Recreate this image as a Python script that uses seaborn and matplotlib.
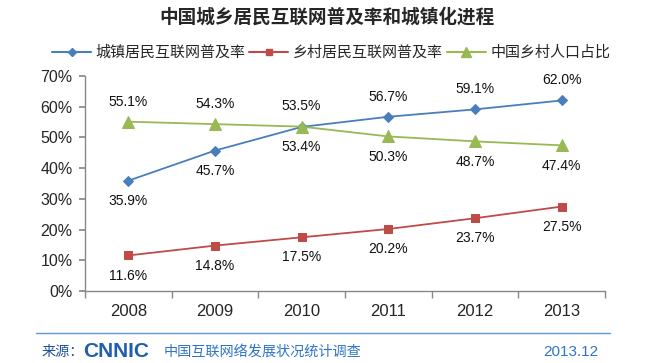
import matplotlib
matplotlib.use("Agg")
import matplotlib.pyplot as plt
import seaborn as sns
import pandas as pd
from matplotlib.lines import Line2D

years = ["2008", "2009", "2010", "2011", "2012", "2013"]
urban = [35.9, 45.7, 53.4, 56.7, 59.1, 62.0]
rural = [11.6, 14.8, 17.5, 20.2, 23.7, 27.5]
rural_pop = [55.1, 54.3, 53.5, 50.3, 48.7, 47.4]
series_names = ["城镇居民互联网普及率", "乡村居民互联网普及率", "中国乡村人口占比"]
yticks = [0, 10, 20, 30, 40, 50, 60, 70]

# label placement: +1 above, -1 below
urban_pos = [-1, -1, -1, 1, 1, 1]
rural_pos = [-1] * 6
pop_pos = [1, 1, 1, -1, -1, -1]

sns.set_theme(style="white")
plt.rcParams["font.family"] = ["Liberation Sans", "Noto Sans CJK SC", "DejaVu Sans"]
cjk = ["Noto Sans CJK SC", "DejaVu Sans"]

colors = ["#4A7EBB", "#BE4B48", "#98B954"]
markers = ["D", "s", "^"]
msizes = [5, 6, 8]

df = pd.DataFrame({
    "year": years * 3,
    "x": list(range(len(years))) * 3,
    "value": urban + rural + rural_pop,
    "series": [series_names[0]] * 6 + [series_names[1]] * 6 + [series_names[2]] * 6,
})

fig = plt.figure(figsize=(6.53, 3.63), dpi=100)
ax = fig.add_axes([0.130, 0.198, 0.7965, 0.593])

for i, name in enumerate(series_names):
    sub = df[df["series"] == name]
    sns.lineplot(data=sub, x="x", y="value", ax=ax, color=colors[i],
                 marker=markers[i], markersize=msizes[i], markeredgecolor=colors[i],
                 linewidth=1.3, legend=False)

for vals, pos in [(urban, urban_pos), (rural, rural_pos), (rural_pop, pop_pos)]:
    for j, (v, p) in enumerate(zip(vals, pos)):
        ax.annotate(f"{v:.1f}%", (j, v), xytext=(0, 14.5 * p), textcoords="offset points",
                    ha="center", va="center", fontsize=10, color="#111111")

ax.set_xlim(-0.5, len(years) - 0.5)
ax.set_ylim(0, 70)
ax.set_yticks(yticks)
ax.set_yticklabels([f"{t}%" for t in yticks], fontsize=11.5)
ax.set_xticks(range(len(years)))
ax.set_xticklabels(years, fontsize=12)
ax.set_xticks([k - 0.5 for k in range(len(years) + 1)], minor=True)
ax.tick_params(axis="x", which="major", length=0, pad=9)
ax.tick_params(axis="x", which="minor", length=5, color="#888888", direction="out", bottom=True)
ax.tick_params(axis="y", length=4, color="#888888", direction="out", left=True, pad=5)
ax.set_xlabel("")
ax.set_ylabel("")
for s in ["top", "right"]:
    ax.spines[s].set_visible(False)
for s in ["left", "bottom"]:
    ax.spines[s].set_color("#888888")
    ax.spines[s].set_linewidth(1)

handles = [Line2D([0], [0], color=colors[i], marker=markers[i], markersize=msizes[i] - 1,
                  linewidth=1.5) for i in range(3)]
fig.legend(handles, series_names, loc="center", bbox_to_anchor=(0.507, 0.854), ncol=3,
           frameon=False, prop={"family": cjk, "size": 10.8}, handlelength=2.6,
           handletextpad=0.3, columnspacing=0.25)

fig.text(0.5, 0.952, "中国城乡居民互联网普及率和城镇化进程", ha="center", va="center",
         fontsize=13.4, fontweight="bold", family=cjk)

fig.add_artist(Line2D([0.055, 0.934], [0.083, 0.083], color="#5B9BD5", linewidth=1))
fig.text(0.064, 0.030, "来源：", ha="left", va="center", fontsize=10.2, color="#1F4E9A", family=cjk)
fig.text(0.127, 0.032, "CNNIC", ha="left", va="center", fontsize=15, fontweight="bold",
         color="#1F5FAD", family=["Liberation Sans"])
fig.text(0.250, 0.030, "中国互联网络发展状况统计调查", ha="left", va="center", fontsize=10.2,
         color="#2E75C8", family=cjk)
fig.text(0.916, 0.030, "2013.12", ha="right", va="center", fontsize=11, color="#2E75C8")

fig.savefig("out.png", dpi=100)
